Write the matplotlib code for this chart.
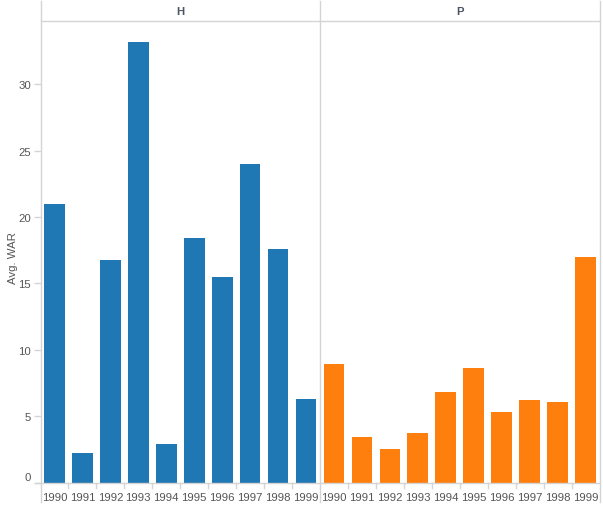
import matplotlib
matplotlib.use("Agg")
import matplotlib.pyplot as plt
from matplotlib.lines import Line2D
import numpy as np

plt.rcParams['font.family'] = ['Liberation Sans', 'DejaVu Sans']

years = ['1990', '1991', '1992', '1993', '1994', '1995', '1996', '1997', '1998', '1999']
panels = ['H', 'P']
war_h = [21.0, 2.2, 16.8, 33.2, 2.9, 18.4, 15.5, 24.0, 17.6, 6.3]
war_p = [8.9, 3.4, 2.5, 3.7, 6.8, 8.6, 5.3, 6.2, 6.1, 17.0]
colors = ['#1f77b4', '#ff7f0e']
y_ticks = [0, 5, 10, 15, 20, 25, 30]

W, H = 603, 510
fig = plt.figure(figsize=(W / 100, H / 100), dpi=100)

grid = '#d4d4d4'
text_c = '#555555'
fs = 8.2

def fx(px):
    return px / W

def fy(py):
    return 1 - py / H

left, mid, right = 40.5, 320, 599.5
top, base = 22, 483.5

x = np.arange(len(years))
for i, (name, vals) in enumerate(zip(panels, [war_h, war_p])):
    x0 = left if i == 0 else mid
    x1 = mid if i == 0 else right
    ax = fig.add_axes([fx(x0), fy(base), fx(x1 - x0), fy(top) - fy(base)])
    ax.bar(x, vals, width=0.74, color=colors[i])
    ax.set_xlim(-0.5, 9.5)
    ax.set_ylim(0, 34.78)
    for s in ax.spines.values():
        s.set_visible(False)
    ax.set_xticks([])
    if i == 0:
        ax.set_yticks(y_ticks)
        ax.set_yticklabels([str(t) for t in y_ticks])
        ax.tick_params(axis='y', length=5, width=1, color=grid, pad=2,
                       labelsize=fs, labelcolor=text_c)
        # tableau nudges the zero label up
        lab0 = ax.get_yticklabels()[0]
        lab0.set_verticalalignment('bottom')
    else:
        ax.set_yticks([])
    # baseline
    ax.axhline(0, color=grid, lw=1, clip_on=False)
    # separators between year labels
    for k in range(1, len(years)):
        ax.plot([k - 0.5, k - 0.5], [0, -0.4], color=grid, lw=1, clip_on=False)
    for k, yr in enumerate(years):
        ax.text(k, -0.7, yr, ha='center', va='top', fontsize=fs, color=text_c)
    # header
    fig.text(fx((x0 + x1) / 2), fy(12), name, ha='center', va='center',
             fontsize=fs, fontweight='bold', color='#4b5563')

fig.text(fx(13), fy(258), 'Avg. WAR', rotation=90, ha='center', va='center',
         fontsize=fs, color=text_c)

# frame lines
for px in [left, mid, right]:
    fig.add_artist(Line2D([fx(px), fx(px)], [fy(2), fy(503)], color=grid, lw=1))
fig.add_artist(Line2D([fx(left), fx(right)], [fy(top), fy(top)], color=grid, lw=1))
fig.add_artist(Line2D([fx(35), fx(left)], [fy(base), fy(base)], color=grid, lw=1))

fig.savefig('out.png', dpi=100)
